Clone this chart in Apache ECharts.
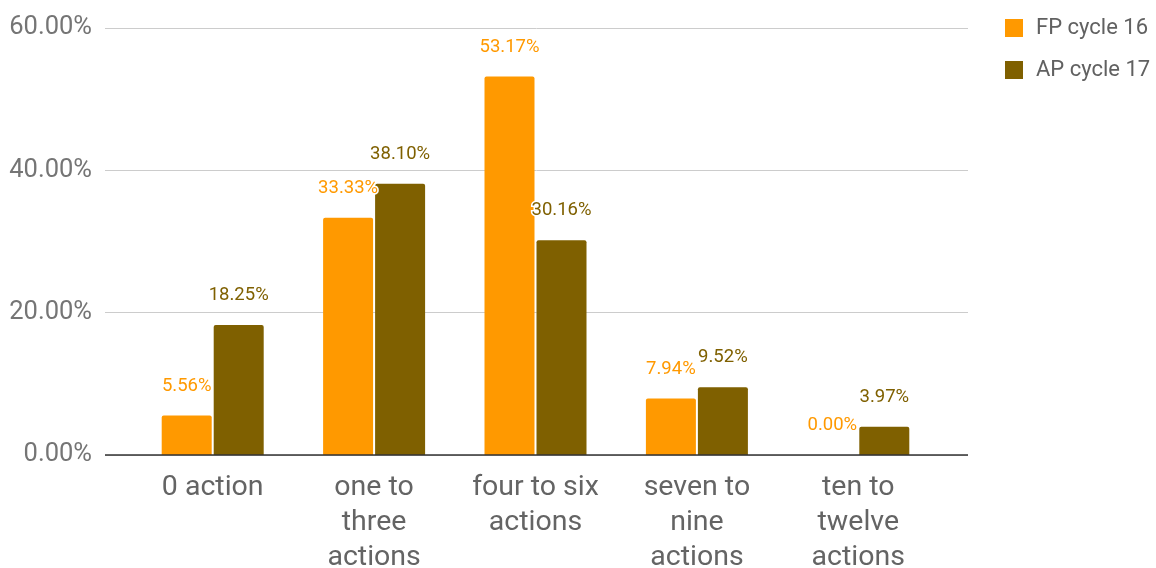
<!DOCTYPE html>
<html>
<head>
<meta charset="utf-8">
<script src="https://cdn.jsdelivr.net/npm/echarts@6/dist/echarts.min.js"></script>
<style>html,body{margin:0;padding:0;background:#fff}#c{width:1156px;height:568px}</style>
</head>
<body>
<div id="c"></div>
<script>
const categories = ['0 action', 'one to\nthree\nactions', 'four to six\nactions', 'seven to\nnine\nactions', 'ten to\ntwelve\nactions'];
const fpCycle16 = [5.56, 33.33, 53.17, 7.94, 0.00];
const apCycle17 = [18.25, 38.10, 30.16, 9.52, 3.97];
const seriesNames = ['FP cycle 16', 'AP cycle 17'];

const chart = echarts.init(document.getElementById('c'));
const font = 'Roboto, "Noto Sans", sans-serif';
function lbl(color) {
  return {
    show: true, position: 'top', distance: 20,
    color: color, fontSize: 18.5, fontFamily: font,
    textBorderColor: '#fff', textBorderWidth: 3,
    formatter: p => p.value.toFixed(2) + '%'
  };
}
chart.setOption({
  animation: false,
  textStyle: { fontFamily: font },
  legend: {
    orient: 'vertical', left: 1000, top: 12,
    itemWidth: 18, itemHeight: 18, itemGap: 20,
    icon: 'rect',
    textStyle: { fontSize: 22, color: '#616161', fontFamily: font, padding: [0, 0, 0, 8] },
    data: seriesNames
  },
  grid: [
    { left: 105, right: 188, top: 28, bottom: 113, outerBoundsMode: 'none' },
    { left: 132, right: 217, top: 28, bottom: 113, outerBoundsMode: 'none' }
  ],
  xAxis: [
    { type: 'category', gridIndex: 0, data: [''], show: false },
    {
      type: 'category', gridIndex: 1, data: categories,
      axisLine: { show: false }, axisTick: { show: false },
      axisLabel: { fontSize: 28.5, color: '#646464', lineHeight: 35, margin: 15, fontFamily: font, interval: 0 }
    }
  ],
  yAxis: [
    {
      type: 'value', gridIndex: 0, min: 0, max: 60, interval: 20,
      axisLine: { show: false }, axisTick: { show: false },
      splitLine: { lineStyle: { color: '#cccccc', width: 1 } },
      axisLabel: { fontSize: 25.5, color: '#757575', margin: 13, fontFamily: font, formatter: v => v.toFixed(2) + '%' }
    },
    { type: 'value', gridIndex: 1, min: 0, max: 60, interval: 20, show: false }
  ],
  series: [
    {
      name: seriesNames[0], type: 'bar', xAxisIndex: 1, yAxisIndex: 1,
      data: fpCycle16, barWidth: 50, barGap: '4%',
      itemStyle: { color: '#ff9900', borderRadius: [2, 2, 0, 0] },
      label: lbl('#ff9900')
    },
    {
      name: seriesNames[1], type: 'bar', xAxisIndex: 1, yAxisIndex: 1,
      data: apCycle17, barWidth: 50, barGap: '4%',
      itemStyle: { color: '#7f6000', borderRadius: [2, 2, 0, 0] },
      label: lbl('#7f6000')
    },
    {
      type: 'line', xAxisIndex: 0, yAxisIndex: 0, data: [], silent: true,
      markLine: {
        symbol: 'none', silent: true, label: { show: false },
        lineStyle: { color: '#333', width: 1.5, type: 'solid' },
        data: [{ yAxis: 0 }]
      }
    }
  ]
});
</script>
</body>
</html>
